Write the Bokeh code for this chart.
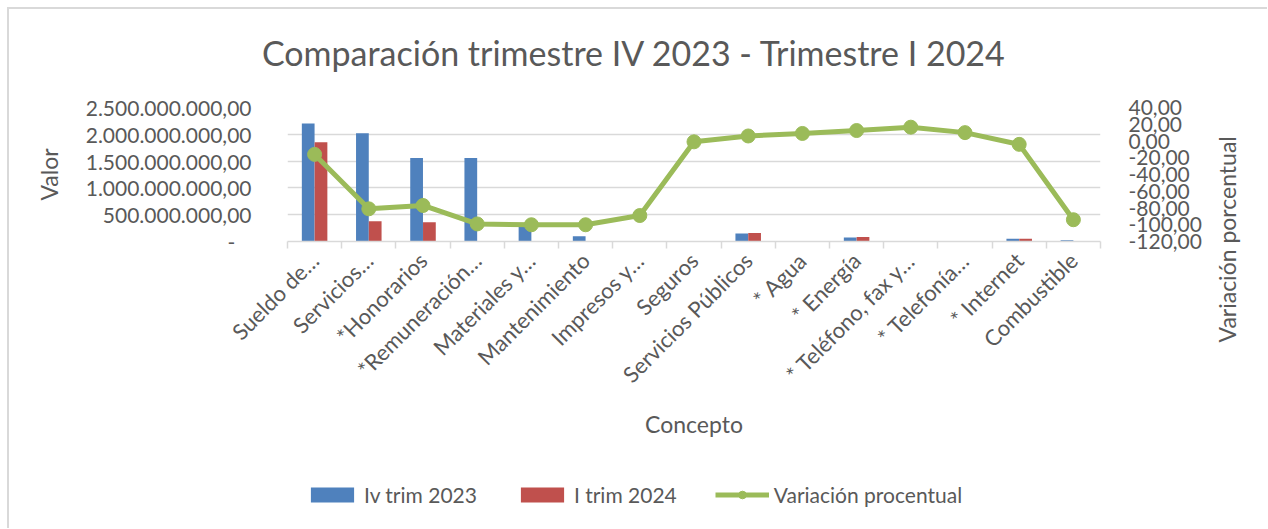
import math
from bokeh.plotting import figure
from bokeh.layouts import column, row
from bokeh.models import (Range1d, LinearAxis, FixedTicker, CustomJSTickFormatter,
                          Legend, LegendItem, ColumnDataSource, Title, Label)
from bokeh.embed import file_html
from bokeh.resources import INLINE

# ---------------- data ----------------
chart_title = "Comparaci\u00f3n trimestre IV 2023 - Trimestre I 2024"
categories = ["Sueldo de\u2026", "Servicios\u2026", "*Honorarios", "*Remuneraci\u00f3n\u2026",
              "Materiales y\u2026", "Mantenimiento", "Impresos y\u2026", "Seguros",
              "Servicios P\u00fablicos", "* Agua", "* Energ\u00eda", "* Tel\u00e9fono, fax y\u2026",
              "* Telefon\u00eda\u2026", "* Internet", "Combustible"]
iv_trim_2023 = [2.20e9, 2.02e9, 1.56e9, 1.56e9, 0.30e9, 0.10e9, 0.006e9, 0.0,
                0.150e9, 0.002e9, 0.076e9, 0.001e9, 0.001e9, 0.052e9, 0.022e9]
i_trim_2024 = [1.85e9, 0.38e9, 0.36e9, 0.010e9, 0.0, 0.0, 0.0007e9, 0.0,
               0.159e9, 0.0022e9, 0.085e9, 0.0012e9, 0.0011e9, 0.050e9, 0.0013e9]
variacion = [-16, -81, -77, -99, -100, -100, -89, -1, 6, 9, 12.5, 16.5, 10, -4, -94]
left_ticks = [0, 5e8, 1e9, 1.5e9, 2e9, 2.5e9]
right_ticks = [-120, -100, -80, -60, -40, -20, 0, 20, 40]
series_names = ["Iv trim 2023", "I trim 2024", "Variaci\u00f3n procentual"]

FONT = "Lato"
TXT = "#595959"
BLUE = "#4F81BD"
RED = "#C0504D"
GREEN = "#9BBB59"
GRID = "#D9D9D9"

idx = list(range(len(categories)))
src = ColumnDataSource(dict(
    x=idx,
    x_blue=[i - 0.118 for i in idx],
    x_red=[i + 0.118 for i in idx],
    iv=iv_trim_2023, i24=i_trim_2024, pct=variacion,
))


def strip(width, height):
    f = figure(width=width, height=height, output_backend="svg", toolbar_location=None,
               x_axis_location=None, y_axis_location=None, min_border=0,
               x_range=Range1d(-100, -99), y_range=Range1d(-100, -99))
    f.title.visible = False
    f.outline_line_color = None
    f.xgrid.visible = False
    f.ygrid.visible = False
    if "frame_align" in f.properties():
        f.frame_align = False
    return f


# ---------------- title strip ----------------
tf = strip(1258, 70)
tf.add_layout(Label(x=625, y=27, x_units="screen", y_units="screen", text=chart_title,
                    text_align="center", text_baseline="middle",
                    text_font=FONT, text_font_size="34px", text_color=TXT))

# ---------------- main chart ----------------
p = figure(width=1196, height=381, output_backend="svg", toolbar_location=None,
           x_range=Range1d(-0.5, len(categories) - 0.5),
           y_range=Range1d(left_ticks[0], left_ticks[-1]),
           min_border_left=278, min_border_right=105, min_border_top=28, min_border_bottom=219)
p.extra_y_ranges = {"pct": Range1d(right_ticks[0], right_ticks[-1])}
p.title.visible = False
p.outline_line_color = None
p.background_fill_color = "white"
p.border_fill_color = "white"

p.vbar(x="x_blue", top="iv", width=0.235, source=src, fill_color=BLUE, line_color=None)
p.vbar(x="x_red", top="i24", width=0.235, source=src, fill_color=RED, line_color=None)
p.line(x="x", y="pct", source=src, y_range_name="pct", line_color=GREEN, line_width=5)
p.scatter(x="x", y="pct", source=src, y_range_name="pct", size=14,
          fill_color=GREEN, line_color=GREEN)

p.xgrid.visible = False
p.ygrid.grid_line_color = GRID
p.ygrid.grid_line_width = 1.5

la = p.yaxis[0]
la.ticker = FixedTicker(ticks=left_ticks)
la.formatter = CustomJSTickFormatter(code="""
if (tick == 0) { return "-\\u00a0\\u00a0\\u00a0"; }
const s = Math.round(tick).toString().replace(/\\B(?=(\\d{3})+(?!\\d))/g, ".");
return s + ",00";
""")
la.axis_line_color = None
la.major_tick_line_color = None
la.minor_tick_line_color = None
la.major_label_standoff = 30
la.major_label_text_font = FONT
la.major_label_text_font_size = "21px"
la.major_label_text_color = TXT
la.axis_label = "Valor"
la.axis_label_text_font = FONT
la.axis_label_text_font_size = "23px"
la.axis_label_text_font_style = "normal"
la.axis_label_text_color = TXT
la.axis_label_standoff = 20

ra = LinearAxis(y_range_name="pct", ticker=FixedTicker(ticks=right_ticks))
ra.formatter = CustomJSTickFormatter(code="""return tick.toFixed(2).replace(".", ",");""")
ra.axis_line_color = None
ra.major_tick_line_color = None
ra.minor_tick_line_color = None
ra.major_label_standoff = 22
ra.major_label_text_font = FONT
ra.major_label_text_font_size = "21px"
ra.major_label_text_color = TXT
p.add_layout(ra, "right")

xa = p.xaxis[0]
xa.ticker = FixedTicker(ticks=idx, minor_ticks=[i - 0.5 for i in range(len(categories) + 1)])
xa.formatter = CustomJSTickFormatter(args=dict(labels=categories),
                                     code="""return labels[Math.round(tick)];""")
xa.major_label_orientation = math.pi / 4
xa.major_tick_line_color = None
xa.minor_tick_line_color = GRID
xa.minor_tick_line_width = 1.5
xa.minor_tick_out = 7
xa.minor_tick_in = 0
xa.axis_line_color = GRID
xa.axis_line_width = 1.5
xa.major_label_standoff = 8
xa.major_label_text_font = FONT
xa.major_label_text_font_size = "22px"
xa.major_label_text_color = TXT
xa.axis_label = "Concepto"
xa.axis_label_text_font = FONT
xa.axis_label_text_font_size = "23px"
xa.axis_label_text_font_style = "normal"
xa.axis_label_text_color = TXT
xa.axis_label_standoff = 10

# ---------------- right strip: secondary axis title (reads bottom to top) ----------------
rf = figure(width=62, height=381, output_backend="svg", toolbar_location=None,
            x_axis_location=None, y_axis_location=None,
            min_border_left=38, min_border_right=0, min_border_top=28, min_border_bottom=219)
rf.title.visible = False
rf.outline_line_color = None
rf.xgrid.visible = False
rf.ygrid.visible = False
rt = Title(text="Variaci\u00f3n porcentual", align="left", offset=-101, standoff=10,
           text_font=FONT, text_font_size="23px", text_font_style="normal", text_color=TXT)
rf.add_layout(rt, "left")

# ---------------- legend strip ----------------
lg = strip(1258, 68)
g1 = lg.vbar(x="x_blue", top="iv", width=0.235, source=src, fill_color=BLUE, line_color=None,
             visible=False)
g2 = lg.vbar(x="x_red", top="i24", width=0.235, source=src, fill_color=RED, line_color=None,
             visible=False)
g3 = lg.line(x="x", y="pct", source=src, line_color=GREEN, line_width=5, visible=False)
g4 = lg.scatter(x="x", y="pct", source=src, size=14, fill_color=GREEN, line_color=GREEN,
                visible=False)
leg_x = 296 if "frame_align" in lg.properties() else 18
legend = Legend(items=[
    LegendItem(label=series_names[0], renderers=[g1]),
    LegendItem(label=series_names[1], renderers=[g2]),
    LegendItem(label=series_names[2], renderers=[g3, g4]),
], location=(leg_x, 21), orientation="horizontal")
legend.margin = 0
legend.padding = 0
legend.border_line_color = None
legend.background_fill_alpha = 0
legend.inactive_fill_alpha = 0
legend.glyph_width = 54
legend.glyph_height = 19
legend.label_standoff = 5
legend.spacing = 38
legend.label_text_font = FONT
legend.label_text_font_size = "21px"
legend.label_text_color = TXT
lg.add_layout(legend, "center")

layout = column(tf, row(p, rf, spacing=0), lg, spacing=0)
layout.styles = {"margin-top": "7px", "margin-left": "7px",
                 "border-top": "2px solid #D9D9D9", "border-left": "2px solid #D9D9D9"}

open("out.html", "w").write(file_html(layout, INLINE))
